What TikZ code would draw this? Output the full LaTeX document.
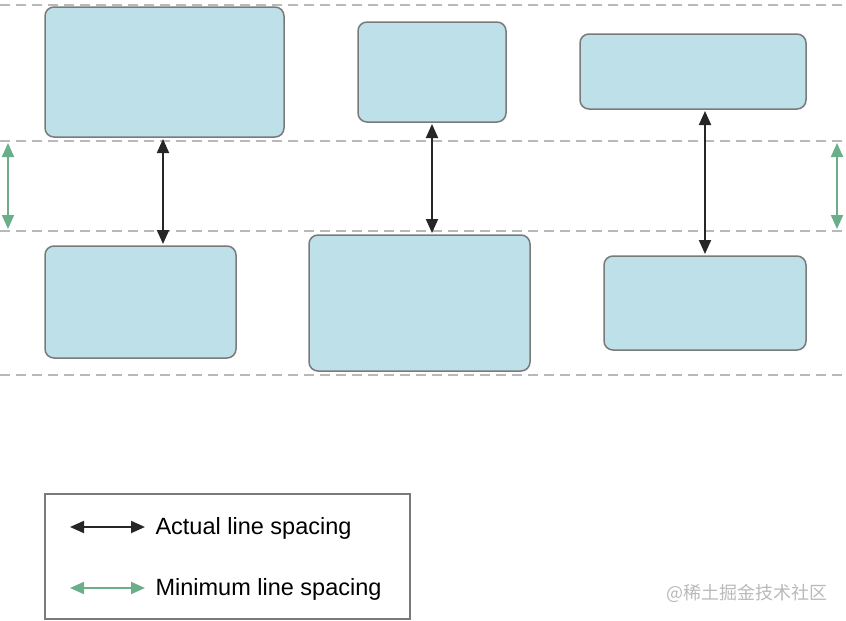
\documentclass[tikz,border=0pt]{standalone}
\usepackage{fontspec}
\setmainfont{Liberation Sans}
\newfontfamily\cjk{Noto Sans CJK SC}
\usetikzlibrary{arrows.meta}
\definecolor{boxblue}{HTML}{BEE1E9}
\definecolor{boxline}{HTML}{7A7A7A}
\definecolor{mingreen}{HTML}{6AAE8A}
\tikzset{
  glyph/.style={draw=boxline, fill=boxblue, rounded corners=9pt, line width=1.5pt},
  guide/.style={draw=gray!55, dash pattern=on 10pt off 6pt, line width=1.6pt},
  actual/.style={{Triangle[length=14pt,width=12pt]}-{Triangle[length=14pt,width=12pt]}, line width=2pt, black!85},
  minimum/.style={{Triangle[length=14pt,width=12pt]}-{Triangle[length=14pt,width=12pt]}, line width=2pt, mingreen},
}
\begin{document}
\begin{tikzpicture}[x=1pt,y=-1pt]
  \useasboundingbox (0,0) rectangle (846,621);
  % line guides
  \foreach \y in {5,141,231,375}
    \draw[guide] (0,\y) -- (846,\y);
  % glyph boxes
  \draw[glyph] (45,7) rectangle (284,137);
  \draw[glyph] (358,22) rectangle (506,122);
  \draw[glyph] (580,34) rectangle (806,109);
  \draw[glyph] (45,246) rectangle (236,358);
  \draw[glyph] (309,235) rectangle (530,371);
  \draw[glyph] (604,256) rectangle (806,350);
  % spacing arrows
  \draw[actual] (163,139) -- (163,244);
  \draw[actual] (432,124) -- (432,233);
  \draw[actual] (705,111) -- (705,254);
  \draw[minimum] (8,143) -- (8,229);
  \draw[minimum] (837,143) -- (837,229);
  % legend
  \draw[boxline, line width=1.5pt] (45,494) rectangle (410,619);
  \draw[actual] (70,527) -- (145,527);
  \node[anchor=west, font=\fontsize{23.5}{26}\selectfont] (lact) at (152,528) {Actual line spacing};
  \draw[minimum] (70,588) -- (145,588);
  \node[anchor=west, font=\fontsize{23.5}{26}\selectfont] (lmin) at (152,589) {Minimum line spacing};
  \node[anchor=east, text=gray!55, font=\cjk\fontsize{18}{20}\selectfont] (mark) at (831,593) {@稀土掘金技术社区};
\end{tikzpicture}
\end{document}
